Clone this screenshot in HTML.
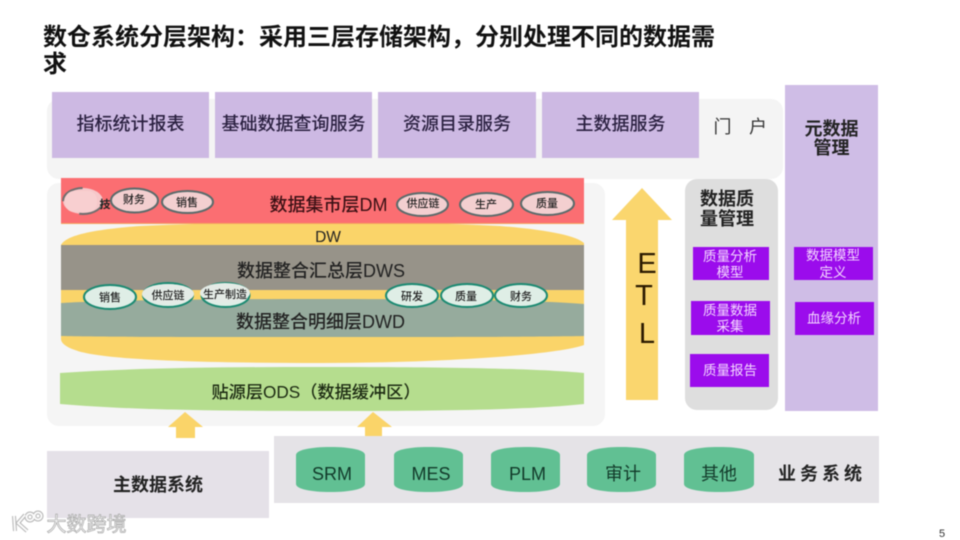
<!DOCTYPE html>
<html lang="zh">
<head>
<meta charset="utf-8">
<title>数仓系统分层架构</title>
<style>
html,body{margin:0;padding:0;background:#fff;width:960px;height:540px;overflow:hidden}
svg{display:block;filter:blur(.45px)}
text{font-family:"Liberation Sans","Noto Sans CJK SC",sans-serif;fill:#222;text-anchor:middle}
.b{font-weight:700}
.w{fill:#f3d6ff;font-size:13.5px}
.o{font-size:11px;fill:#222;font-weight:500}
.p{fill:#9b0cec}
.l{fill:#cdb9e3}
.t{font-size:18px;fill:#2a2040;font-weight:500}
.c{font-size:18px;fill:#123a2a}
.d{font-size:18px;fill:#222;font-weight:500}
</style>
</head>
<body>
<svg width="960" height="540" viewBox="0 0 960 540" xmlns="http://www.w3.org/2000/svg">
<rect width="960" height="540" fill="#fff"/>

<!-- title -->
<text x="43" y="45" font-size="24" style="text-anchor:start;font-weight:700;fill:#111">数仓系统分层架构：采用三层存储架构，分别处理不同的数据需</text>
<text x="43" y="72" font-size="24" style="text-anchor:start;font-weight:700;fill:#111">求</text>

<!-- top portal -->
<rect x="47" y="99" width="736" height="80" rx="12" fill="#f4f4f4"/>
<rect class="l" x="52" y="92" width="157" height="66"/>
<rect class="l" x="215" y="92" width="157" height="66"/>
<rect class="l" x="378" y="92" width="158" height="66"/>
<rect class="l" x="542" y="92" width="157" height="66"/>
<text class="t" x="130.500" y="130">指标统计报表</text>
<text class="t" x="293.500" y="130">基础数据查询服务</text>
<text class="t" x="457" y="130">资源目录服务</text>
<text class="t" x="620.500" y="130">主数据服务</text>
<text x="722.500" y="133" font-size="18" style="fill:#333">门</text>
<text x="758" y="133" font-size="18" style="fill:#333">户</text>

<!-- meta column -->
<rect x="785" y="85" width="93" height="326" fill="#cfbde6"/>
<text x="831.500" y="135" font-size="18" class="b">元数据</text>
<text x="831.500" y="154" font-size="18" class="b">管理</text>
<rect class="p" x="794" y="247" width="79" height="33"/>
<rect class="p" x="795" y="302" width="79" height="33"/>
<text class="w" x="833" y="260">数据模型</text>
<text class="w" x="833" y="277">定义</text>
<text class="w" x="834" y="323">血缘分析</text>

<!-- quality column -->
<rect x="685" y="179" width="93" height="231" rx="12" fill="#dedede"/>
<text x="727" y="205" font-size="18" class="b">数据质</text>
<text x="727" y="225" font-size="18" class="b">量管理</text>
<rect class="p" x="693" y="247" width="76" height="33"/>
<rect class="p" x="691" y="301" width="79" height="34"/>
<rect class="p" x="690" y="354" width="79" height="33"/>
<text class="w" x="730" y="261">质量分析</text>
<text class="w" x="730" y="277">模型</text>
<text class="w" x="730" y="315">质量数据</text>
<text class="w" x="730" y="331">采集</text>
<text class="w" x="730" y="375">质量报告</text>

<!-- ETL arrow -->
<polygon points="642,188 672,220 658,220 658,400 626,400 626,220 612,220" fill="#fad66e"/>
<text x="647" y="273" font-size="29" style="fill:#2b1a00">E</text>
<text x="644" y="305" font-size="29" style="fill:#2b1a00">T</text>
<text x="647" y="343" font-size="29" style="fill:#2b1a00">L</text>

<!-- main panel -->
<rect x="47" y="183" width="558" height="243" rx="12" fill="#f5f5f5"/>

<!-- yellow DW -->
<path d="M61 245 C66 236 88 230 140 226 C200 223 260 223 322 223 C390 223 450 223 500 226 C550 230 576 236 584 243 L584 345 C560 354 450 363 322 363 C200 363 100 360 75 350 C66 347 61 343 61 339 Z" fill="#fad469"/>
<rect x="61" y="178" width="523" height="45" fill="#fb6e72"/>
<rect x="61" y="223" width="523" height="1" fill="#f5a45f"/>
<text x="328.500" y="211" class="d" style="fill:#3a1014">数据集市层DM</text>
<text x="328" y="242" font-size="15.500">DW</text>

<!-- DWS -->
<rect x="61" y="245" width="523" height="45" fill="#979389"/>
<text x="321" y="277" class="d">数据整合汇总层DWS</text>

<!-- DWD -->
<path d="M61 303 C110 300 220 299 322 299 C430 299 540 300 584 304 L584 336 C530 337 430 337 322 337 C220 337 110 337 61 336 Z" fill="#96ab9d"/>
<text x="320.500" y="328" class="d">数据整合明细层DWD</text>

<!-- ODS -->
<path d="M60 373 C130 368 220 367 322 367 C430 367 530 368 584 373 L584 404 C530 410 430 411 322 411 C220 411 130 410 60 404 Z" fill="#b5dd8e"/>
<text x="316" y="398" font-size="17.200" style="fill:#1c2a12;font-weight:500">贴源层ODS（数据缓冲区）</text>

<!-- small arrows -->
<polygon points="185,412 203,427 195,427 195,438 176,438 176,427 168,427" fill="#fad469"/>
<polygon points="373,412 392,427 382,427 382,437 365,437 365,427 357,427" fill="#fad469"/>

<!-- DM ovals -->
<ellipse cx="83" cy="201" rx="20" ry="13" fill="#f6c8ca" stroke="#6f6f6f" stroke-width="2" stroke-dasharray="30 22 26 40"/>
<rect x="65" y="191" width="32" height="21" rx="9" fill="#f8cfd0"/>
<text class="o" x="105" y="208" style="font-weight:700">技</text>
<g fill="#f3cfd0" stroke="#5b6b6b" stroke-width="2">
<ellipse cx="134.500" cy="200.500" rx="23.500" ry="12"/>
<ellipse cx="187.500" cy="202" rx="25.500" ry="11"/>
<ellipse cx="422.500" cy="204.500" rx="25.500" ry="11.500"/>
<ellipse cx="486.500" cy="204.500" rx="26.500" ry="11.500"/>
<ellipse cx="547.500" cy="203.500" rx="26.500" ry="11.500"/>
</g>
<text class="o" x="134" y="203">财务</text>
<text class="o" x="187" y="206">销售</text>
<text class="o" x="423" y="207">供应链</text>
<text class="o" x="486" y="208">生产</text>
<text class="o" x="547" y="207">质量</text>

<!-- DW ovals -->
<g fill="#dfeee6" stroke="#1c8a72" stroke-width="2">
<ellipse cx="110" cy="297" rx="26" ry="12"/>
<ellipse cx="412" cy="295.500" rx="26" ry="11.500"/>
<ellipse cx="467" cy="295.500" rx="26" ry="11.500"/>
<ellipse cx="521" cy="295.500" rx="26" ry="11.500"/>
<ellipse cx="168" cy="295" rx="25" ry="12"/>
<ellipse cx="225.500" cy="295" rx="24" ry="12"/>
</g>
<ellipse cx="168" cy="294" rx="26" ry="10" fill="#e4ebe6"/>
<ellipse cx="225" cy="293" rx="25" ry="10" fill="#e4ebe6"/>
<text class="o" x="110" y="301">销售</text>
<text class="o" x="168" y="299">供应链</text>
<text class="o" x="225" y="298">生产制造</text>
<text class="o" x="412" y="300">研发</text>
<text class="o" x="466" y="300">质量</text>
<text class="o" x="521" y="300">财务</text>

<!-- source systems -->
<rect x="47" y="451" width="222" height="67" fill="#e5e1e8"/>
<text x="158" y="491" class="d" style="font-weight:700">主数据系统</text>
<rect x="274" y="436" width="605" height="67" fill="#e5e3e7"/>

<g fill="#61c093">
<path d="M296 455 C296 450 311 447 330.500 447 C350 447 365 450 365 455 L365 484 C365 489 350 492 330.500 492 C311 492 296 489 296 484 Z"/>
<path d="M394 455 C394 450 409 447 428.500 447 C448 447 463 450 463 455 L463 484 C463 489 448 492 428.500 492 C409 492 394 489 394 484 Z"/>
<path d="M491 455 C491 450 506 447 525.500 447 C545 447 560 450 560 455 L560 484 C560 489 545 492 525.500 492 C506 492 491 489 491 484 Z"/>
<path d="M587 455 C587 450 602 447 621.500 447 C641 447 656 450 656 455 L656 484 C656 489 641 492 621.500 492 C602 492 587 489 587 484 Z"/>
<path d="M684 455 C684 450 699 447 719 447 C739 447 754 450 754 455 L754 484 C754 489 739 492 719 492 C699 492 684 489 684 484 Z"/>
</g>
<text class="c" x="332" y="480">SRM</text>
<text class="c" x="431" y="480">MES</text>
<text class="c" x="527.500" y="480">PLM</text>
<text class="c" x="623" y="480">审计</text>
<text class="c" x="719" y="480">其他</text>
<text x="822" y="480" font-size="18" style="font-weight:700;letter-spacing:4px">业务系统</text>

<!-- watermark -->
<g fill="none" stroke="#b5b5b5" stroke-width="4">
<path d="M14 516 L15 531 M25 515 L18 523 L27 531"/>
<circle cx="30" cy="517" r="3.500"/>
<circle cx="38" cy="516" r="3.500"/>
</g>
<g fill="none" stroke="#fbfbfb" stroke-width="2">
<path d="M14 516 L15 531 M25 515 L18 523 L27 531"/>
<circle cx="30" cy="517" r="3.500"/>
<circle cx="38" cy="516" r="3.500"/>
</g>
<text x="86.500" y="531" font-size="20" style="fill:#f7f7f7;stroke:#a8a8a8;stroke-width:.7px">大数跨境</text>

<!-- page number -->
<text x="942" y="537" font-size="11" style="fill:#333">5</text>
</svg>
</body>
</html>
